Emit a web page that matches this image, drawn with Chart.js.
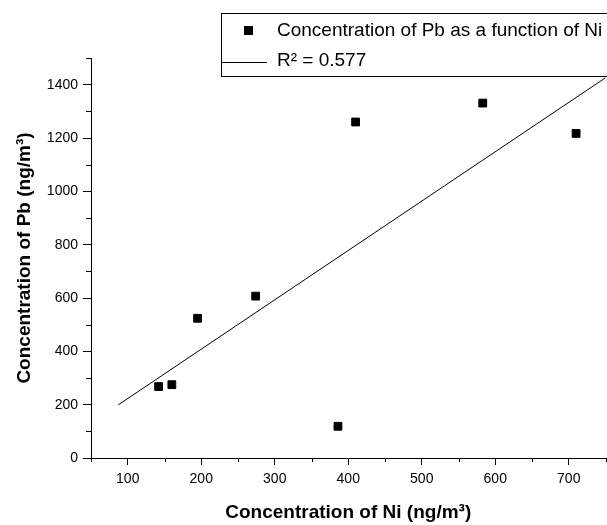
<!DOCTYPE html>
<html>
<head>
<meta charset="utf-8">
<script src="https://cdn.jsdelivr.net/npm/chart.js@4/dist/chart.umd.min.js"></script>
<style>
html, body { margin: 0; padding: 0; background: #fff; overflow: hidden; }
#wrap { width: 612px; height: 525px; }
</style>
</head>
<body>
<div id="wrap"><canvas id="chart" width="612" height="525"></canvas></div>
<script>
// data
const ni_values = [142, 160, 195, 274, 386, 410, 583, 710];
const pb_values = [268, 275, 524, 607, 119, 1260, 1331, 1217];
const fit_x = [87, 750];
const fit_y = [199, 1426];
const x_ticks = [100, 200, 300, 400, 500, 600, 700];
const x_minor = [50, 150, 250, 350, 450, 550, 650, 750];
const y_ticks = [0, 200, 400, 600, 800, 1000, 1200, 1400];
const y_minor = [100, 300, 500, 700, 900, 1100, 1300, 1500];
const series_label = 'Concentration of Pb as a function of Ni';
const fit_label = 'R\u00B2 = 0.577';

const black = '#000';
const font_family = "'Liberation Sans', Arial, Helvetica, sans-serif";
Chart.defaults.font.family = font_family;
Chart.defaults.color = black;

//minor tick marks on both axes
const minor_ticks = {
    id: 'minorTicks',
    afterDraw(chart) {
        const ctx = chart.ctx;
        const xs = chart.scales.x;
        const ys = chart.scales.y;
        ctx.save();
        ctx.strokeStyle = black;
        ctx.lineWidth = 1;
        ctx.beginPath();
        x_minor.forEach(v => {
            const px = Math.round(xs.getPixelForValue(v)) + 0.5;
            ctx.moveTo(px, xs.top);
            ctx.lineTo(px, xs.top + 4);
        });
        y_minor.forEach(v => {
            const py = Math.round(ys.getPixelForValue(v)) + 0.5;
            ctx.moveTo(ys.right, py);
            ctx.lineTo(ys.right - 5, py);
        });
        ctx.stroke();
        ctx.restore();
    }
};

//boxed legend in the top right corner
const box_legend = {
    id: 'boxLegend',
    afterDraw(chart) {
        const ctx = chart.ctx;
        const sets = chart.data.datasets;
        ctx.save();
        ctx.strokeStyle = black;
        ctx.lineWidth = 1;
        ctx.strokeRect(221.5, 13.5, 420, 63);
        // marker row
        ctx.fillStyle = black;
        ctx.fillRect(244, 26, 9, 9);
        ctx.font = '19px ' + font_family;
        ctx.textBaseline = 'middle';
        ctx.textAlign = 'left';
        ctx.fillText(sets[0].label, 277, 31);
        // line row
        ctx.beginPath();
        ctx.moveTo(222, 62.5);
        ctx.lineTo(267, 62.5);
        ctx.stroke();
        ctx.fillText(sets[1].label, 277, 61);
        ctx.restore();
    }
};

const ctx = document.getElementById('chart');
new Chart(ctx, {
    type: 'scatter',
    data: {
        datasets: [{
            label: series_label,
            data: ni_values.map((x, i) => ({x: x, y: pb_values[i]})),
            pointStyle: 'rect',
            pointRadius: 5.5,
            borderWidth: 1,
            backgroundColor: black,
            borderColor: black,
        }, {
            type: 'line',
            label: fit_label,
            data: fit_x.map((x, i) => ({x: x, y: fit_y[i]})),
            showLine: true,
            pointRadius: 0,
            borderColor: black,
            borderWidth: 1,
            fill: false,
        }]
    },
    options: {
        responsive: false,
        animation: false,
        layout: {
            padding: {top: 58, right: 2, left: 0, bottom: 0}
        },
        plugins: {
            legend: { display: false },
            tooltip: { enabled: false }
        },
        scales: {
            x: {
                type: 'linear',
                min: 50,
                max: 750,
                afterBuildTicks: (scale) => { scale.ticks = x_ticks.map(v => ({value: v})); },
                afterFit: (scale) => { scale.height = 67; },
                grid: {
                    drawOnChartArea: false,
                    tickLength: 7,
                    color: black,
                },
                border: { color: black, width: 1 },
                ticks: {
                    padding: 6,
                    maxRotation: 0,
                    font: { size: 14 },
                    color: black,
                    callback: (v) => String(v),
                },
                title: {
                    display: true,
                    text: 'Concentration of Ni (ng/m\u00B3)',
                    font: { size: 19, weight: 'bold' },
                    padding: {top: 0, bottom: 1},
                    color: black,
                }
            },
            y: {
                type: 'linear',
                min: 0,
                max: 1500,
                afterBuildTicks: (scale) => { scale.ticks = y_ticks.map(v => ({value: v})); },
                afterFit: (scale) => { scale.width = 91; },
                grid: {
                    drawOnChartArea: false,
                    tickLength: 8,
                    color: black,
                },
                border: { color: black, width: 1 },
                ticks: {
                    padding: 5,
                    font: { size: 14 },
                    color: black,
                    callback: (v) => String(v),
                },
                title: {
                    display: true,
                    text: 'Concentration of Pb (ng/m\u00B3)',
                    font: { size: 19, weight: 'bold' },
                    padding: {top: 13, bottom: 0},
                    color: black,
                }
            }
        }
    },
    plugins: [minor_ticks, box_legend]
});
</script>
</body>
</html>
